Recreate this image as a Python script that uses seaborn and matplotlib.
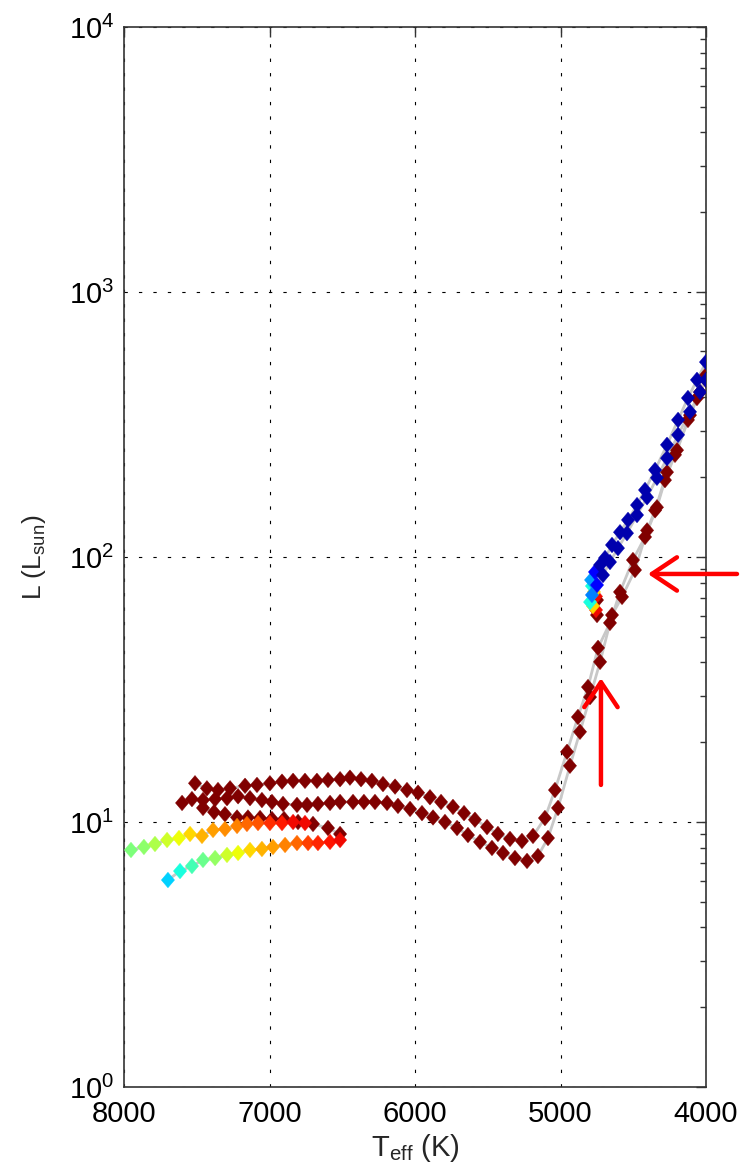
import matplotlib
matplotlib.use("Agg")
import matplotlib.pyplot as plt
import matplotlib.ticker as mticker
import numpy as np
import pandas as pd
import seaborn as sns

# ---- evolutionary tracks: effective temperature (K), luminosity (Lsun), colour value ----
# upper main-sequence band, valley and left red-giant branch (all dark red)
teff_a = [7512, 7430, 7354, 7271, 7168, 7086, 6997, 6914, 6838, 6756, 6674, 6598,
          6515, 6447, 6371, 6296, 6220, 6137, 6055, 5979, 5897, 5821, 5739, 5663,
          5588, 5505, 5430, 5347, 5265, 5189, 5107, 5038, 4955, 4880, 4811, 4742,
          4660, 4591, 4502, 4419, 4337, 4282, 4213, 4124, 4062, 4000]
lum_a = [14.0, 13.4, 13.2, 13.4, 13.7, 13.8, 14.0, 14.2, 14.3, 14.3, 14.3, 14.4,
         14.5, 14.7, 14.5, 14.3, 13.9, 13.6, 13.2, 12.9, 12.4, 11.9, 11.4, 10.8,
         10.2, 9.57, 9.01, 8.63, 8.48, 8.86, 10.35, 13.2, 18.4, 24.9, 32.3, 45.4,
         56.4, 73.8, 97.4, 119, 154, 195, 243, 329, 398, 486]

# middle main-sequence band, valley and right red-giant branch (all dark red)
teff_b = [7601, 7533, 7457, 7374, 7292, 7216, 7134, 7052, 6983, 6907, 6811, 6742,
          6667, 6584, 6515, 6426, 6351, 6275, 6192, 6117, 6034, 5952, 5876, 5794,
          5711, 5636, 5553, 5471, 5395, 5313, 5230, 5155, 5086, 5017, 4935, 4866,
          4797, 4728, 4646, 4577, 4488, 4405, 4350, 4268, 4199, 4110, 4041, 4000]
lum_b = [11.8, 12.2, 12.1, 12.2, 12.3, 12.5, 12.3, 12.1, 11.9, 11.7, 11.6, 11.6,
         11.7, 11.8, 11.9, 11.9, 11.9, 11.9, 11.8, 11.5, 11.2, 10.8, 10.4, 10.0,
         9.49, 8.93, 8.41, 7.98, 7.64, 7.31, 7.13, 7.44, 8.70, 11.3, 16.3, 21.9,
         29.6, 40.2, 60.4, 70.7, 89.3, 126, 150, 209, 253, 343, 419, 466]

# short dark-red sequence between the bands
teff_e = [7457, 7381, 7306, 7223, 7148, 7065, 6983, 6900, 6804, 6701, 6598, 6515]
lum_e = [11.3, 10.9, 10.7, 10.4, 10.4, 10.35, 10.26, 10.26, 10.0, 9.83, 9.49, 9.01]

# upper coloured zero-age sequence
teff_c = [7952, 7863, 7787, 7704, 7622, 7546, 7464, 7388, 7306, 7223, 7155, 7079,
          6997, 6914, 6838, 6756]
lum_c = [7.84, 8.05, 8.26, 8.55, 8.70, 9.01, 8.86, 9.33, 9.41, 9.66, 9.83, 9.91,
         9.91, 9.91, 10.0, 9.91]
col_c = [0.50, 0.52, 0.56, 0.60, 0.64, 0.68, 0.72, 0.74, 0.76, 0.77, 0.80, 0.82,
         0.86, 0.88, 0.90, 0.90]

# lower coloured zero-age sequence
teff_d = [7698, 7615, 7533, 7457, 7374, 7292, 7216, 7134, 7052, 6976, 6893, 6811,
          6735, 6667, 6584, 6515]
lum_d = [6.04, 6.53, 6.82, 7.19, 7.31, 7.51, 7.64, 7.84, 7.91, 8.05, 8.19, 8.33,
         8.33, 8.33, 8.41, 8.55]
col_d = [0.33, 0.38, 0.43, 0.48, 0.53, 0.60, 0.64, 0.68, 0.72, 0.74, 0.77, 0.80,
         0.84, 0.87, 0.89, 0.90]

# helium-burning branches (blue)
teff_g = [4749, 4756, 4770, 4784, 4790, 4763, 4728, 4694, 4646, 4591, 4536, 4474,
          4419, 4350, 4268, 4192, 4124, 4062, 4000]
lum_g = [68.8, 71.0, 73.8, 77.7, 81.9, 87.8, 93.3, 99.1, 111, 124, 138, 157,
         179, 213, 265, 329, 398, 466, 544]
col_g = [1.0, 0.90, 0.68, 0.38, 0.28, 0.12, 0.04, 0.04, 0.04, 0.04, 0.04, 0.04,
         0.04, 0.04, 0.04, 0.04, 0.04, 0.04, 0.04]

teff_h = [4749, 4756, 4777, 4797, 4784, 4749, 4708, 4660, 4605, 4543, 4474, 4405,
          4337, 4268, 4192, 4110, 4041, 4000]
lum_h = [60.4, 63.1, 65.3, 67.6, 71.9, 78.4, 85.5, 95.7, 108, 123, 144, 168,
         199, 236, 289, 353, 419, 466]
col_h = [1.0, 0.90, 0.68, 0.38, 0.25, 0.12, 0.04, 0.04, 0.04, 0.04, 0.04, 0.04,
         0.04, 0.04, 0.04, 0.04, 0.04, 0.04]

x_ticks = [8000, 7000, 6000, 5000, 4000]

# ---- assemble a long table ----
frames = []
for name, t, l, c in [
    ("a", teff_a, lum_a, None),
    ("b", teff_b, lum_b, None),
    ("e", teff_e, lum_e, None),
    ("c", teff_c, lum_c, col_c),
    ("d", teff_d, lum_d, col_d),
    ("g", teff_g, lum_g, col_g),
    ("h", teff_h, lum_h, col_h),
]:
    f = pd.DataFrame({"teff": t, "lum": l})
    f["col"] = 1.0 if c is None else c
    f["track"] = name
    frames.append(f)
df = pd.concat(frames, ignore_index=True)

# ---- style ----
sns.set_theme(style="white")
plt.rcParams["font.family"] = ["Liberation Sans", "DejaVu Sans"]
plt.rcParams["mathtext.fontset"] = "custom"
plt.rcParams["mathtext.rm"] = "Liberation Sans"
plt.rcParams["mathtext.it"] = "Liberation Sans:italic"
plt.rcParams["mathtext.default"] = "regular"

fig = plt.figure(figsize=(7.45, 11.76), dpi=100)
ax = fig.add_axes([124 / 745, 1 - 1087 / 1176, 582 / 745, 1060 / 1176])

sns.lineplot(data=df, x="teff", y="lum", units="track", estimator=None,
             sort=False, color="#c8c8c8", linewidth=2.0, ax=ax, zorder=2)

diamond = [(0, 1), (0.85, 0), (0, -1), (-0.85, 0), (0, 1)]
sns.scatterplot(data=df, x="teff", y="lum", hue="col",
                palette=matplotlib.colormaps["jet"],
                hue_norm=(0, 1), marker=diamond, s=125, edgecolor="face",
                linewidth=0.3, legend=False, ax=ax, zorder=3)

ax.set_yscale("log")
ax.set_xlim(8000, 4000)
ax.set_ylim(1, 1e4)
ax.set_xticks(x_ticks)
ax.xaxis.set_major_formatter(mticker.FuncFormatter(lambda v, p: f"{int(v)}"))
ax.yaxis.set_major_locator(mticker.LogLocator(base=10, numticks=10))
ax.yaxis.set_minor_locator(mticker.LogLocator(base=10, subs=np.arange(2, 10), numticks=20))
ax.yaxis.set_minor_formatter(mticker.NullFormatter())

ax.tick_params(which="both", direction="in", top=True, right=True,
               colors="#333333", labelcolor="black", width=1.0)
ax.tick_params(which="major", length=7, labelsize=21)
ax.tick_params(which="minor", length=4)
ax.tick_params(axis="x", pad=9)
ax.tick_params(axis="y", pad=7)
for sp in ax.spines.values():
    sp.set_color("#333333")
    sp.set_linewidth(1.2)

ax.grid(True, which="major", color="black", linestyle=(0, (3, 10)), linewidth=0.8)
ax.set_axisbelow(True)

ax.set_xlabel(r"T$_{eff}$ (K)", fontsize=21, labelpad=3)
ax.set_ylabel(r"L (L$_{sun}$)", fontsize=19, labelpad=15)

# ---- arrows ----
arrow_kw = dict(arrowstyle="->,head_length=0.9,head_width=0.6", color="red",
                lw=3.2, mutation_scale=20, shrinkA=0, shrinkB=0)
ax.annotate("", xy=(4399, 86.3), xytext=(3787, 86.3), arrowprops=arrow_kw,
            annotation_clip=False)
ax.annotate("", xy=(4722, 34.9), xytext=(4722, 13.8), arrowprops=arrow_kw,
            annotation_clip=False)

fig.savefig("out.png", dpi=100)
